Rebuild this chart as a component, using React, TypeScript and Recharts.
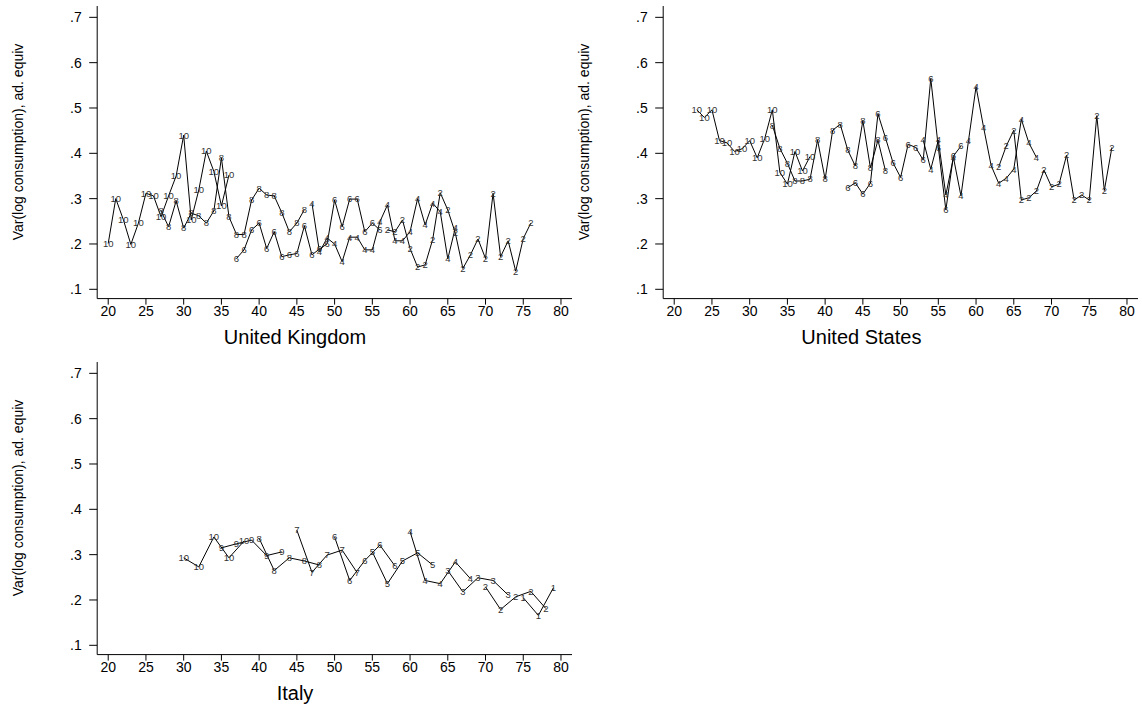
import React from "react";
import { LineChart, Line, XAxis, YAxis } from "recharts";

// United Kingdom, cohorts 10 (youngest) .. 2, by age
const ukAge10 = [20, 21, 22, 23, 24, 25, 26, 27, 28, 29, 30, 31, 32, 33, 34, 35, 36];
const ukVar10 = [0.201, 0.3, 0.254, 0.199, 0.246, 0.312, 0.306, 0.26, 0.306, 0.35, 0.44, 0.253, 0.319, 0.405, 0.36, 0.284, 0.352];
const ukAge8 = [27, 28, 29, 30, 31, 32, 33, 34, 35, 36, 37, 38, 39, 40, 41, 42, 43, 44, 45, 46];
const ukVar8 = [0.273, 0.238, 0.295, 0.235, 0.268, 0.262, 0.246, 0.273, 0.39, 0.26, 0.221, 0.221, 0.297, 0.323, 0.308, 0.306, 0.269, 0.227, 0.246, 0.276];
const ukAge6 = [37, 38, 39, 40, 41, 42, 43, 44, 45, 46, 47, 48, 49, 50, 51, 52, 53, 54, 55, 56];
const ukVar6 = [0.168, 0.187, 0.231, 0.246, 0.19, 0.227, 0.172, 0.176, 0.179, 0.24, 0.176, 0.189, 0.2, 0.297, 0.238, 0.299, 0.299, 0.227, 0.246, 0.231];
const ukAge4 = [47, 48, 49, 50, 51, 52, 53, 54, 55, 56, 57, 58, 59, 60, 61, 62, 63, 64, 65, 66];
const ukVar4 = [0.29, 0.182, 0.213, 0.2, 0.161, 0.215, 0.215, 0.187, 0.187, 0.249, 0.286, 0.207, 0.207, 0.227, 0.3, 0.242, 0.29, 0.271, 0.167, 0.236];
const ukAge2 = [57, 58, 59, 60, 61, 62, 63, 64, 65, 66, 67, 68, 69, 70, 71, 72, 73, 74, 75, 76];
const ukVar2 = [0.231, 0.227, 0.253, 0.19, 0.149, 0.154, 0.21, 0.313, 0.275, 0.224, 0.146, 0.176, 0.211, 0.168, 0.312, 0.172, 0.207, 0.14, 0.212, 0.246];

// United States
const usAge10 = [23, 24, 25, 26, 27, 28, 29, 30, 31, 32, 33, 34, 35, 36, 37, 38];
const usVar10 = [0.496, 0.479, 0.496, 0.428, 0.423, 0.404, 0.41, 0.428, 0.39, 0.433, 0.496, 0.358, 0.332, 0.404, 0.361, 0.393];
const usAge8 = [33, 34, 35, 36, 37, 38, 39, 40, 41, 42, 43, 44, 45, 46, 47, 48];
const usVar8 = [0.462, 0.411, 0.378, 0.339, 0.339, 0.343, 0.429, 0.343, 0.451, 0.464, 0.407, 0.372, 0.472, 0.368, 0.429, 0.361];
const usAge6 = [43, 44, 45, 46, 47, 48, 49, 50, 51, 52, 53, 54, 55, 56, 57, 58];
const usVar6 = [0.324, 0.335, 0.31, 0.334, 0.487, 0.434, 0.379, 0.347, 0.42, 0.413, 0.385, 0.565, 0.413, 0.275, 0.394, 0.416];
const usAge4 = [53, 54, 55, 56, 57, 58, 59, 60, 61, 62, 63, 64, 65, 66, 67, 68];
const usVar4 = [0.429, 0.365, 0.429, 0.308, 0.391, 0.306, 0.428, 0.547, 0.457, 0.373, 0.334, 0.345, 0.365, 0.475, 0.423, 0.391];
const usAge2 = [63, 64, 65, 66, 67, 68, 69, 70, 71, 72, 73, 74, 75, 76, 77, 78];
const usVar2 = [0.37, 0.416, 0.451, 0.297, 0.302, 0.317, 0.363, 0.326, 0.332, 0.396, 0.297, 0.308, 0.297, 0.483, 0.318, 0.413];

// Italy (biennial surveys)
const itAge10 = [30, 32, 34, 36, 38];
const itVar10 = [0.293, 0.273, 0.339, 0.293, 0.33];
const itAge9 = [35, 37, 39, 41, 43];
const itVar9 = [0.315, 0.324, 0.332, 0.298, 0.306];
const itAge8 = [40, 42, 44, 46, 48];
const itVar8 = [0.336, 0.265, 0.293, 0.286, 0.277];
const itAge7 = [45, 47, 49, 51, 53];
const itVar7 = [0.354, 0.261, 0.299, 0.31, 0.26];
const itAge6 = [50, 52, 54, 56, 58];
const itVar6 = [0.339, 0.243, 0.287, 0.321, 0.275];
const itAge5 = [55, 57, 59, 61, 63];
const itVar5 = [0.306, 0.236, 0.286, 0.304, 0.277];
const itAge4 = [60, 62, 64, 66, 68];
const itVar4 = [0.351, 0.243, 0.236, 0.284, 0.247];
const itAge3 = [65, 67, 69, 71, 73];
const itVar3 = [0.265, 0.218, 0.249, 0.243, 0.211];
const itAge2 = [70, 72, 74, 76, 78];
const itVar2 = [0.229, 0.179, 0.207, 0.219, 0.181];
const itAge1 = [75, 77, 79];
const itVar1 = [0.205, 0.166, 0.227];

const xTicks = [20, 25, 30, 35, 40, 45, 50, 55, 60, 65, 70, 75, 80];
const yTicks = [0.1, 0.2, 0.3, 0.4, 0.5, 0.6, 0.7];
const yTitle = "Var(log consumption), ad. equiv";

type Cohort = { label: string; ages: number[]; vals: number[] };

const ukCohorts: Cohort[] = [
  { label: "10", ages: ukAge10, vals: ukVar10 },
  { label: "8", ages: ukAge8, vals: ukVar8 },
  { label: "6", ages: ukAge6, vals: ukVar6 },
  { label: "4", ages: ukAge4, vals: ukVar4 },
  { label: "2", ages: ukAge2, vals: ukVar2 },
];
const usCohorts: Cohort[] = [
  { label: "10", ages: usAge10, vals: usVar10 },
  { label: "8", ages: usAge8, vals: usVar8 },
  { label: "6", ages: usAge6, vals: usVar6 },
  { label: "4", ages: usAge4, vals: usVar4 },
  { label: "2", ages: usAge2, vals: usVar2 },
];
const itCohorts: Cohort[] = [
  { label: "10", ages: itAge10, vals: itVar10 },
  { label: "9", ages: itAge9, vals: itVar9 },
  { label: "8", ages: itAge8, vals: itVar8 },
  { label: "7", ages: itAge7, vals: itVar7 },
  { label: "6", ages: itAge6, vals: itVar6 },
  { label: "5", ages: itAge5, vals: itVar5 },
  { label: "4", ages: itAge4, vals: itVar4 },
  { label: "3", ages: itAge3, vals: itVar3 },
  { label: "2", ages: itAge2, vals: itVar2 },
  { label: "1", ages: itAge1, vals: itVar1 },
];

const FONT = '"Liberation Sans", Arial, Helvetica, sans-serif';
const PANEL_H = 352;

const fmtY = (v: number) => v.toFixed(1).replace(/^0/, "");

// stata-style marker: the cohort number itself sits on the point
const markerLabel = (label: string) => (p: any) => (
  <text
    key={`${label}-${p.index}`}
    x={p.cx}
    y={p.cy}
    dy="0.35em"
    textAnchor="middle"
    fontSize={9.5}
    fill="#333"
    fontFamily={FONT}
  >
    {label}
  </text>
);

function Panel({ cohorts, left, top, width, right }: { cohorts: Cohort[]; left: number; top: number; width: number; right: number }) {
  return (
    <div style={{ position: "absolute", left, top }}>
      <LineChart width={width} height={PANEL_H} margin={{ top: 6, right, bottom: 23.4, left: 37.2 }}>
        <XAxis
          type="number"
          dataKey="age"
          domain={[18.54, 81.46]}
          ticks={xTicks}
          interval={0}
          allowDataOverflow
          height={30}
          tickSize={6}
          tickMargin={1.5}
          stroke="#000"
          tick={{ fontSize: 14, fill: "#000", fontFamily: FONT }}
        />
        <YAxis
          type="number"
          domain={[0.0795, 0.725]}
          ticks={yTicks}
          interval={0}
          allowDataOverflow
          width={60}
          tickSize={8}
          tickMargin={7.5}
          tickFormatter={fmtY}
          stroke="#000"
          tick={{ fontSize: 14, fill: "#000", fontFamily: FONT }}
        />
        {cohorts.map((c) => (
          <Line
            key={c.label}
            data={c.ages.map((age, i) => ({ age, v: c.vals[i] }))}
            dataKey="v"
            type="linear"
            stroke="#000"
            strokeWidth={1}
            dot={markerLabel(c.label)}
            activeDot={false}
            isAnimationActive={false}
          />
        ))}
      </LineChart>
    </div>
  );
}

function YTitle({ cx, cy }: { cx: number; cy: number }) {
  return (
    <div
      style={{
        position: "absolute",
        left: cx - 150,
        top: cy - 8,
        width: 300,
        height: 16,
        lineHeight: "16px",
        textAlign: "center",
        fontSize: 14,
        fontFamily: FONT,
        transform: "rotate(-90deg)",
      }}
    >
      {yTitle}
    </div>
  );
}

function PanelTitle({ cx, top, text }: { cx: number; top: number; text: string }) {
  return (
    <div
      style={{
        position: "absolute",
        left: cx - 150,
        top,
        width: 300,
        height: 24,
        lineHeight: "24px",
        textAlign: "center",
        fontSize: 20,
        fontFamily: FONT,
      }}
    >
      {text}
    </div>
  );
}

export default function App() {
  return (
    <div style={{ position: "absolute", left: 0, top: 0, width: 1142, height: 705, overflow: "hidden", background: "#fff" }}>
      <Panel cohorts={ukCohorts} left={0} top={0} width={580} right={8} />
      <Panel cohorts={usCohorts} left={566.4} top={0} width={575.6} right={3.6} />
      <Panel cohorts={itCohorts} left={0} top={355.6} width={580} right={8} />
      <YTitle cx={18} cy={142} />
      <YTitle cx={584.4} cy={142} />
      <YTitle cx={18} cy={497.6} />
      <PanelTitle cx={295} top={325} text="United Kingdom" />
      <PanelTitle cx={861.4} top={325} text="United States" />
      <PanelTitle cx={295} top={680.6} text="Italy" />
    </div>
  );
}
